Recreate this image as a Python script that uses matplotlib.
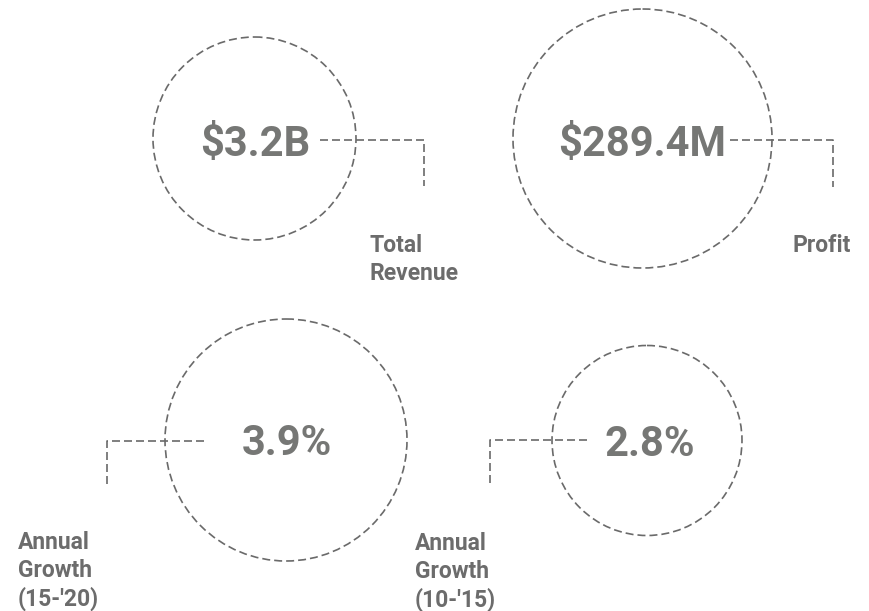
import matplotlib.pyplot as plt
from matplotlib.patches import Circle

# data
values = ['$3.2B', '$289.4M', '3.9%', '2.8%']
labels = ['Total\nRevenue', 'Profit', "Annual\nGrowth\n(15-'20)", "Annual\nGrowth\n(10-'15)"]

# layout in pixels (figure 870 x 611, y goes down)
centres = [(254.5, 138.5), (642.5, 138.5), (286, 440), (647, 440.5)]
radii = [101.5, 129.5, 121, 95]
text_pos = [(255, 156), (642, 156), (287, 455), (650, 456)]
# connector: start x, y, corner x, end y
connectors = [(320, 139.5, 424, 186), (730, 139.5, 833, 187),
              (204, 441, 107, 486), (587, 440, 490, 486)]
label_pos = [(370, 234), (793, 234), (18, 531), (415, 532)]

line_col = '#6a6a6a'
value_col = '#767775'
label_col = '#6c6c6c'
dash = (0, (4.8, 2.4))

plt.rcParams['font.family'] = ['Roboto', 'DejaVu Sans']

fig = plt.figure(figsize=(8.7, 6.11), dpi=100)
ax = fig.add_axes([0, 0, 1, 1])
ax.set_xlim(0, 870)
ax.set_ylim(611, 0)
ax.set_aspect('equal')
ax.axis('off')

for i in range(len(values)):
    cx, cy = centres[i]
    ax.add_patch(Circle((cx, cy), radii[i], fill=False, edgecolor=line_col,
                        lw=1.2, linestyle=dash))
    tx, ty = text_pos[i]
    ax.text(tx, ty, values[i], ha='center', va='baseline', fontsize=30,
            fontweight='bold', color=value_col)
    x0, y0, x1, y1 = connectors[i]
    ax.plot([x0, x1, x1], [y0, y0, y1], color=line_col, lw=1.2, linestyle=dash)
    lx, ly = label_pos[i]
    ax.text(lx, ly, labels[i], ha='left', va='top', fontsize=16.5,
            fontweight='bold', color=label_col, linespacing=1.27)

fig.savefig('out.png', dpi=100, facecolor='white')
